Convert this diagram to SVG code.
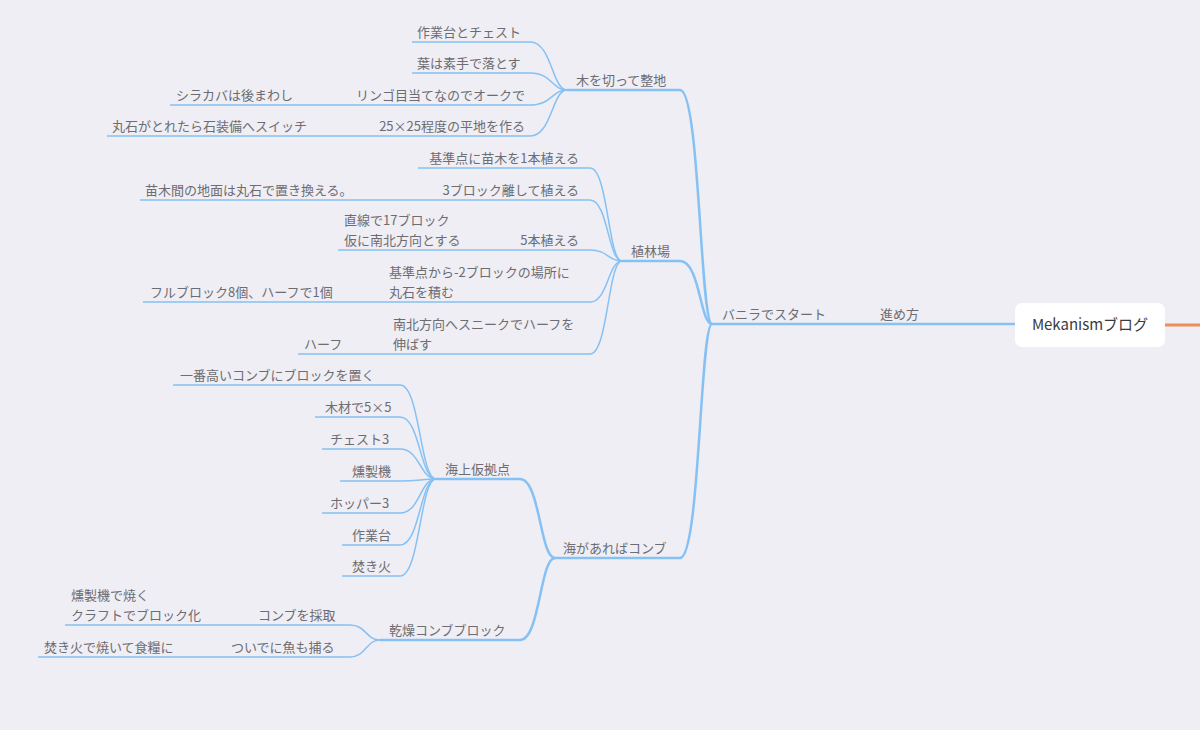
<svg xmlns="http://www.w3.org/2000/svg" width="1200" height="730" viewBox="0 0 1200 730">
<style>
text{font-family:"Noto Sans CJK JP","Liberation Sans",sans-serif;font-size:13px;fill:#6c6c72}
.u{stroke:#86c1f4;stroke-width:1.5;fill:none}
.u2{stroke:#86c1f4;stroke-width:2.5;fill:none}
.c{stroke:#86c1f4;stroke-width:1.5;fill:none}
.c2{stroke:#86c1f4;stroke-width:2.5;fill:none}
</style>
<rect width="1200" height="730" fill="#efeef4"/>
<g id="connectors">
<path class="c2" d="M680,90 C700,90 700,324 712,324"/>
<path class="c2" d="M680,261 C700,261 700,324 712,324"/>
<path class="c2" d="M680,558 C700,558 700,324 712,324"/>
<path class="c" d="M530,42 C552,42 552,90 567,90"/>
<path class="c" d="M530,73 C552,73 552,90 567,90"/>
<path class="c" d="M530,105 C552,105 552,90 567,90"/>
<path class="c" d="M530,136 C552,136 552,90 567,90"/>
<path class="c" d="M590,168 C608,168 608,261 622,261"/>
<path class="c" d="M590,200 C608,200 608,261 622,261"/>
<path class="c" d="M590,250 C608,250 608,261 622,261"/>
<path class="c" d="M590,302 C608,302 608,261 622,261"/>
<path class="c" d="M590,354 C608,354 608,261 622,261"/>
<path class="c2" d="M520,479 C540,479 540,558 555,558"/>
<path class="c2" d="M520,640 C540,640 540,558 555,558"/>
<path class="c" d="M400,385 C420,385 420,479 436,479"/>
<path class="c" d="M400,417 C420,417 420,479 436,479"/>
<path class="c" d="M400,449 C420,449 420,479 436,479"/>
<path class="c" d="M400,481 C420,481 420,479 436,479"/>
<path class="c" d="M400,513 C420,513 420,479 436,479"/>
<path class="c" d="M400,545 C420,545 420,479 436,479"/>
<path class="c" d="M400,576 C420,576 420,479 436,479"/>
<path class="c" d="M350,625 C366,625 366,640 380,640"/>
<path class="c" d="M350,657 C366,657 366,640 380,640"/>
<path d="M1165,325 L1200,325" stroke="#ef8d5a" stroke-width="3"/>
</g>
<g id="root"><rect x="1015" y="303" width="150" height="44" rx="7" fill="#fff"/><text x="1090" y="330" text-anchor="middle" style="font-size:15px;fill:#3a3a3e">Mekanismブログ</text></g>
<g id="n-susumekata"><path class="u2" d="M870,324 H1015"/><text x="880" y="319">進め方</text></g>
<g id="n-vanilla"><path class="u2" d="M712,324 H870"/><text x="722" y="319">バニラでスタート</text></g>
<g id="n-ki"><path class="u2" d="M567,90 H680"/><text x="576" y="85">木を切って整地</text></g>
<g id="n-sakugyou"><path class="u" d="M412,42 H530"/><text x="417" y="37">作業台とチェスト</text></g>
<g id="n-ha"><path class="u" d="M412,73 H530"/><text x="417" y="68">葉は素手で落とす</text></g>
<g id="n-ringo"><path class="u" d="M340,105 H530"/><text x="525" y="100" text-anchor="end">リンゴ目当てなのでオークで</text></g>
<g id="n-shirakaba"><path class="u" d="M170,105 H340"/><text x="176" y="100">シラカバは後まわし</text></g>
<g id="n-25"><path class="u" d="M365,136 H530"/><text x="525" y="131" text-anchor="end">25×25程度の平地を作る</text></g>
<g id="n-maruishi"><path class="u" d="M107,136 H365"/><text x="112" y="131">丸石がとれたら石装備へスイッチ</text></g>
<g id="n-shokurin"><path class="u2" d="M622,261 H680"/><text x="631" y="256">植林場</text></g>
<g id="n-kijun"><path class="u" d="M418,168 H590"/><text x="579" y="163" text-anchor="end">基準点に苗木を1本植える</text></g>
<g id="n-3block"><path class="u" d="M430,200 H590"/><text x="579" y="195" text-anchor="end">3ブロック離して植える</text></g>
<g id="n-naegi"><path class="u" d="M140,200 H430"/><text x="145" y="195">苗木間の地面は丸石で置き換える。</text></g>
<g id="n-5hon"><path class="u" d="M510,250 H590"/><text x="579" y="245" text-anchor="end">5本植える</text></g>
<g id="n-chokusen"><path class="u" d="M338,250 H510"/><text x="344" y="225">直線で17ブロック</text><text x="344" y="245">仮に南北方向とする</text></g>
<g id="n-kijun2"><path class="u" d="M383,302 H590"/><text x="389" y="277">基準点から-2ブロックの場所に</text><text x="389" y="297">丸石を積む</text></g>
<g id="n-full"><path class="u" d="M143,302 H383"/><text x="150" y="297">フルブロック8個、ハーフで1個</text></g>
<g id="n-nanboku"><path class="u" d="M387,354 H590"/><text x="393" y="329">南北方向へスニークでハーフを</text><text x="393" y="349">伸ばす</text></g>
<g id="n-half"><path class="u" d="M298,354 H387"/><text x="304" y="349">ハーフ</text></g>
<g id="n-umi"><path class="u2" d="M555,558 H680"/><text x="563" y="553">海があればコンブ</text></g>
<g id="n-kaijou"><path class="u2" d="M436,479 H520"/><text x="445" y="474">海上仮拠点</text></g>
<g id="n-ichiban"><path class="u" d="M173,385 H400"/><text x="180" y="380">一番高いコンブにブロックを置く</text></g>
<g id="n-mokuzai"><path class="u" d="M315,417 H400"/><text x="325" y="412">木材で5×5</text></g>
<g id="n-chest"><path class="u" d="M322,449 H400"/><text x="330" y="444">チェスト3</text></g>
<g id="n-kunsei"><path class="u" d="M340,481 H400"/><text x="352" y="476">燻製機</text></g>
<g id="n-hopper"><path class="u" d="M322,513 H400"/><text x="330" y="508">ホッパー3</text></g>
<g id="n-sagyoudai"><path class="u" d="M342,545 H400"/><text x="352" y="540">作業台</text></g>
<g id="n-takibi"><path class="u" d="M342,576 H400"/><text x="352" y="571">焚き火</text></g>
<g id="n-kansou"><path class="u2" d="M380,640 H520"/><text x="389" y="635">乾燥コンブブロック</text></g>
<g id="n-saishu"><path class="u" d="M250,625 H350"/><text x="258" y="620">コンブを採取</text></g>
<g id="n-kunseiyaku"><path class="u" d="M65,625 H250"/><text x="71" y="600">燻製機で焼く</text><text x="71" y="620">クラフトでブロック化</text></g>
<g id="n-sakana"><path class="u" d="M225,657 H350"/><text x="231" y="652">ついでに魚も捕る</text></g>
<g id="n-takibiyaku"><path class="u" d="M38,657 H225"/><text x="44" y="652">焚き火で焼いて食糧に</text></g>
</svg>
